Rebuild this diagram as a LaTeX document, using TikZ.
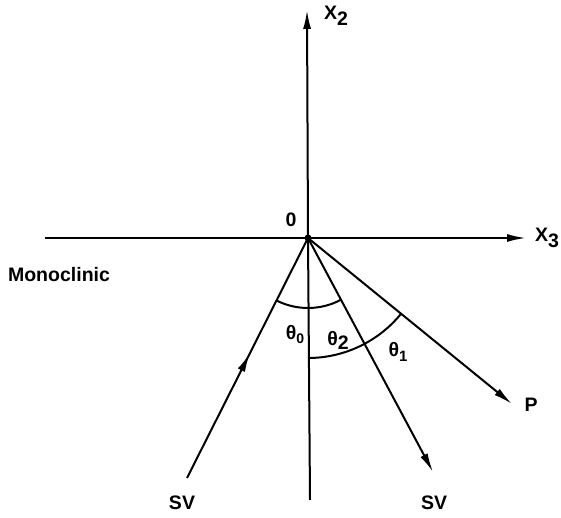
\documentclass[tikz,border=0pt]{standalone}
\usepackage{fontspec}
\setmainfont{Liberation Sans}
\usetikzlibrary{arrows.meta,decorations.markings}
\begin{document}
\begin{tikzpicture}[x=1pt,y=1pt,line width=2pt,
  tipped/.style={-{Latex[length=19pt,width=8pt]}},
  midtip/.style={postaction={decorate},decoration={markings,
      mark=at position #1 with {\arrow{Latex[length=19pt,width=8pt]}}}},
  lbl/.style={inner sep=0pt,font=\fontsize{19.5}{19.5}\selectfont\bfseries}]
\useasboundingbox (0,0) rectangle (561,518);
% points
\coordinate (O) at (308,280);
\coordinate (top) at (307,508);
\coordinate (bot) at (310,18);
\coordinate (left) at (45,280);
\coordinate (right) at (526,280);
\coordinate (inc) at (187,40);
\coordinate (refl) at (433,46);
\coordinate (P) at (512,114);
% axes
\draw (bot) -- (O);
\draw[tipped] (O) -- (top);
\draw (left) -- (O);
\draw[tipped] (O) -- (right);
% rays
\draw[midtip=0.52] (inc) -- (O);
\draw[tipped] (O) -- (refl);
\draw[tipped] (O) -- (P);
\fill (O) circle (3.5pt);
% angle arcs
\draw ([shift={(243.2:70)}]O) arc[start angle=243.2,end angle=298.1,radius=70];
\draw ([shift={(-90:120)}]O) arc[start angle=-90,end angle=-39.1,radius=120];
% labels
\node[lbl] (lx2) at (336,502) {X\raisebox{-6pt}{2}};
\node[lbl,anchor=west] (lx3) at (534,280) {X\raisebox{-6pt}{3}};
\node[lbl] (lO) at (291,298) {0};
\node[lbl] (lmono) at (59,243) {Monoclinic};
\node[lbl] (lt0) at (295,183) {θ\raisebox{-4pt}{\fontsize{14}{14}\selectfont 0}};
\node[lbl] (lt2) at (338,178) {θ\raisebox{-4pt}{2}};
\node[lbl] (lt1) at (398,166) {θ\raisebox{-5pt}{\fontsize{15}{15}\selectfont 1}};
\node[lbl] (lP) at (531,113) {P};
\node[lbl] (lsv1) at (182,15) {SV};
\node[lbl] (lsv2) at (434,15) {SV};
\end{tikzpicture}
\end{document}
